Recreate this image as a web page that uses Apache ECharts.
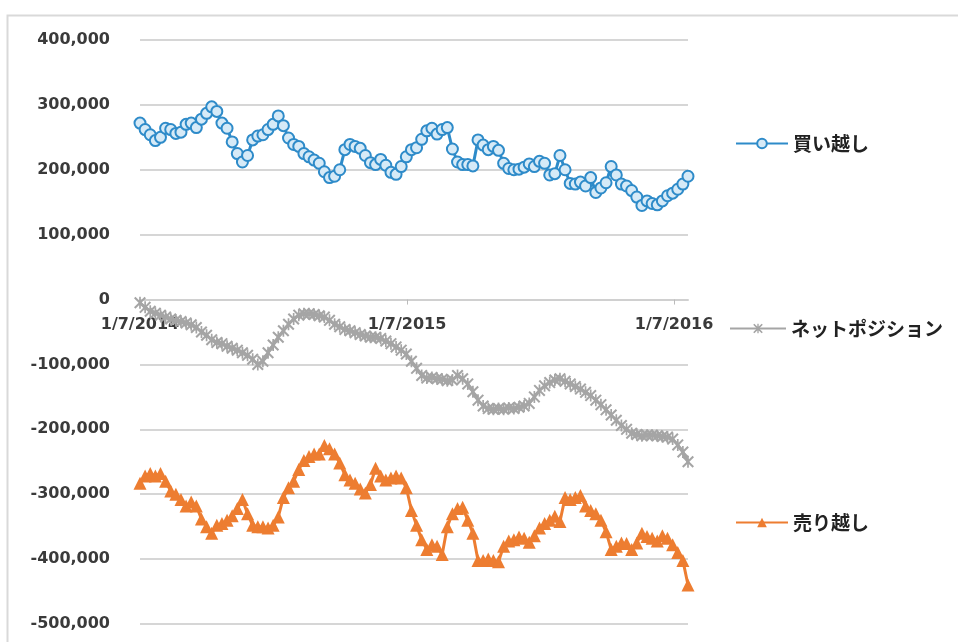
<!DOCTYPE html>
<html>
<head>
<meta charset="utf-8">
<title>買い越し・売り越し・ネットポジション</title>
<script src="https://cdn.jsdelivr.net/npm/echarts@6/dist/echarts.min.js"></script>
<style>
  html, body { margin: 0; padding: 0; background: #fff; }
  #chart { width: 958px; height: 642px; }
</style>
</head>
<body>
<div id="chart"></div>
<script>
// weekly data, first week 2014-01-07
const startDate = Date.UTC(2014, 0, 7)
const weekMs = 7 * 24 * 3600 * 1000

const seriesNames = ['買い越し', 'ネットポジション', '売り越し']

const buyValues = [
  272000, 262000, 254000, 245000, 250000, 264000, 262000, 256000, 258000, 270000,
  272000, 265000, 278000, 287000, 297000, 290000, 272000, 264000, 243000, 225000,
  212000, 222000, 246000, 252000, 254000, 262000, 270000, 283000, 268000, 249000,
  239000, 236000, 225000, 220000, 215000, 210000, 197000, 188000, 190000, 200000,
  231000, 239000, 236000, 233000, 222000, 211000, 208000, 216000, 207000, 196000,
  193000, 205000, 220000, 231000, 234000, 247000, 260000, 264000, 255000, 262000,
  265000, 232000, 212000, 208000, 208000, 206000, 246000, 238000, 231000, 236000,
  230000, 210000, 202000, 200000, 201000, 204000, 209000, 205000, 213000, 210000,
  192000, 194000, 222000, 200000, 179000, 178000, 181000, 175000, 188000, 165000,
  172000, 180000, 205000, 192000, 178000, 175000, 168000, 158000, 145000, 152000,
  148000, 146000, 152000, 160000, 164000, 170000, 178000, 190000
]

const netValues = [
  -5000, -12000, -18000, -21000, -24000, -27000, -30000, -32000, -34000, -36000,
  -39000, -43000, -50000, -55000, -62000, -66000, -68000, -72000, -75000, -78000,
  -82000, -86000, -92000, -100000, -95000, -82000, -70000, -58000, -48000, -38000,
  -30000, -24000, -22000, -22000, -23000, -25000, -27000, -32000, -38000, -42000,
  -46000, -48000, -51000, -54000, -56000, -58000, -58000, -60000, -64000, -68000,
  -73000, -78000, -84000, -95000, -106000, -117000, -121000, -120000, -122000, -123000,
  -125000, -124000, -117000, -122000, -130000, -142000, -155000, -164000, -168000, -169000,
  -168000, -169000, -167000, -168000, -166000, -164000, -160000, -150000, -140000, -133000,
  -128000, -124000, -122000, -126000, -130000, -134000, -138000, -143000, -148000, -155000,
  -162000, -170000, -178000, -186000, -194000, -200000, -206000, -208000, -210000, -209000,
  -209000, -210000, -211000, -212000, -215000, -224000, -235000, -250000
]

const sellValues = [
  -283000, -272000, -268000, -272000, -268000, -280000, -295000, -300000, -308000, -318000,
  -312000, -318000, -338000, -350000, -360000, -348000, -345000, -340000, -333000, -322000,
  -308000, -330000, -348000, -350000, -350000, -352000, -348000, -335000, -305000, -290000,
  -280000, -262000, -248000, -242000, -238000, -238000, -225000, -230000, -238000, -252000,
  -270000, -278000, -283000, -292000, -298000, -285000, -260000, -272000, -278000, -275000,
  -272000, -275000, -290000, -325000, -348000, -370000, -385000, -378000, -380000, -393000,
  -350000, -330000, -322000, -320000, -340000, -360000, -402000, -402000, -400000, -402000,
  -404000, -380000, -372000, -370000, -366000, -368000, -374000, -364000, -352000, -345000,
  -340000, -334000, -342000, -305000, -308000, -305000, -302000, -318000, -325000, -330000,
  -340000, -358000, -385000, -380000, -375000, -376000, -385000, -375000, -360000, -365000,
  -368000, -372000, -364000, -368000, -378000, -390000, -402000, -440000
]

// x axis tick labels (1/7 of each year)
const xTickDates = [Date.UTC(2014, 0, 7), Date.UTC(2015, 0, 7), Date.UTC(2016, 0, 7)]

const yMin = -500000
const yMax = 400000
const yStep = 100000

const dates = buyValues.map((v, i) => startDate + i * weekMs)
const pairs = (vals) => vals.map((v, i) => [dates[i], v])

const starPath = 'path://M0,1.2 L1.2,0 L5,3.8 L8.8,0 L10,1.2 L6.2,5 L10,8.8 L8.8,10 L5,6.2 L1.2,10 L0,8.8 L3.8,5 Z M4.3,0 L5.7,0 L5.7,10 L4.3,10 Z'

const colors = ['#2e8bc9', '#a5a5a5', '#ed7d31']
const legendText = { fontFamily: '"Noto Sans CJK JP", sans-serif', fontWeight: 'bold', fontSize: 19, color: '#222' }
const axisFont = { fontFamily: '"DejaVu Sans", sans-serif', fontWeight: 'bold', fontSize: 16, color: '#3a3a3a' }

// grid geometry, used to put the date axis on the zero line
const gridTop = 40
const gridBottom = 18
const plotHeight = 642 - gridTop - gridBottom
const zeroOffset = -plotHeight * (0 - yMin) / (yMax - yMin)

const myChart = echarts.init(document.getElementById('chart'))

const option = {
  animation: false,
  color: colors,
  graphic: [{
    type: 'rect', left: 5, top: 13, silent: true,
    shape: { width: 1000, height: 700 },
    style: { fill: 'none', stroke: '#d9d9d9', lineWidth: 2 }
  }],
  grid: { left: 140, right: 270, top: gridTop, bottom: gridBottom },
  legend: [
    { data: [seriesNames[0]], left: 730, top: 129, itemWidth: 52, itemHeight: 12, itemGap: 4, textStyle: legendText },
    { data: [seriesNames[1]], left: 724, top: 314, itemWidth: 56, itemHeight: 12, itemGap: 4, textStyle: legendText },
    { data: [seriesNames[2]], left: 730, top: 508, itemWidth: 52, itemHeight: 12, itemGap: 4, textStyle: legendText }
  ],
  xAxis: {
    type: 'value',
    min: startDate,
    max: dates[dates.length - 1],
    position: 'bottom',
    offset: zeroOffset,
    axisLine: { onZero: false, lineStyle: { color: '#d0d0d0', width: 2 } },
    axisTick: { show: true, length: 5, customValues: xTickDates, lineStyle: { color: '#bbb' } },
    axisLabel: {
      customValues: xTickDates,
      margin: 17,
      ...axisFont,
      formatter: (val) => {
        const d = new Date(val)
        return (d.getUTCMonth() + 1) + '/' + d.getUTCDate() + '/' + d.getUTCFullYear()
      }
    },
    splitLine: { show: false }
  },
  yAxis: {
    type: 'value',
    min: yMin,
    max: yMax,
    interval: yStep,
    axisLine: { show: false },
    axisTick: { show: false },
    axisLabel: {
      margin: 30,
      ...axisFont,
      formatter: (v) => v.toLocaleString('en-US')
    },
    splitLine: { lineStyle: { color: '#d6d6d6', width: 2 } }
  },
  series: [
    {
      name: seriesNames[0], type: 'line', data: pairs(buyValues),
      symbol: 'circle', symbolSize: 11,
      lineStyle: { width: 3, color: colors[0] },
      itemStyle: { color: '#d6eaf7', borderColor: colors[0], borderWidth: 2 }
    },
    {
      name: seriesNames[1], type: 'line', data: pairs(netValues),
      symbol: starPath, symbolSize: 12,
      lineStyle: { width: 3, color: colors[1] },
      itemStyle: { color: colors[1] }
    },
    {
      name: seriesNames[2], type: 'line', data: pairs(sellValues),
      symbol: 'triangle', symbolSize: 13,
      lineStyle: { width: 3, color: colors[2] },
      itemStyle: { color: colors[2] }
    }
  ]
}

myChart.setOption(option)
</script>
</body>
</html>
